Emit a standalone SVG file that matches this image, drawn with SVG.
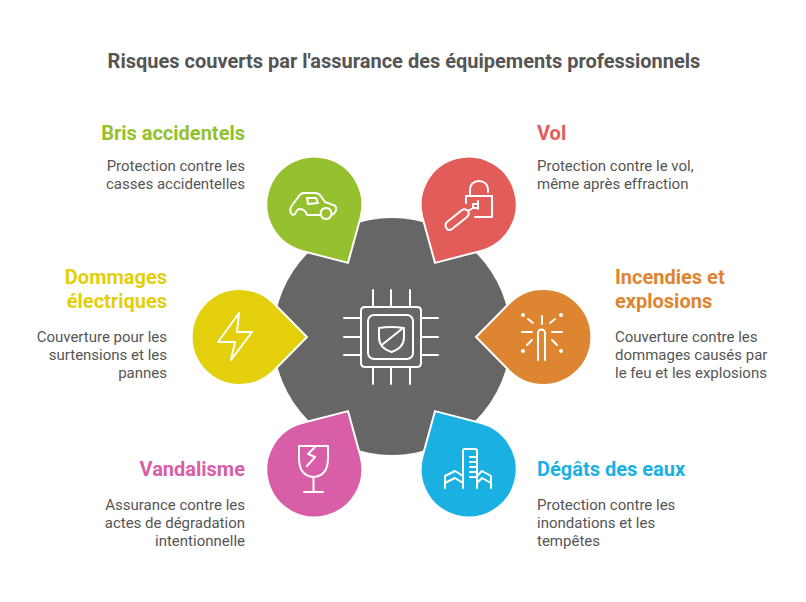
<svg xmlns="http://www.w3.org/2000/svg" width="806" height="602" viewBox="0 0 806 602">
<style>
text{font-family:Roboto,"Liberation Sans",sans-serif}
.t{font-size:20px;font-weight:700;fill:#555}
.h{font-size:20px;font-weight:700}
.d{font-size:15px;fill:#555}
.e{text-anchor:end}
.drop{stroke:#fff;stroke-width:2}
.i{fill:none;stroke:#fff;stroke-width:2;stroke-linecap:round;stroke-linejoin:round}
</style>
<defs><path id="drop" class="drop" d="M68 0L34 34.500A48 48 0 1 1 34 -34.500Z"/></defs>
<rect width="806" height="602" fill="#fff"/>
<text class="t" x="404" y="68" text-anchor="middle">Risques couverts par l'assurance des équipements professionnels</text>
<g id="hub">
<circle cx="392" cy="336.500" r="118.500" fill="#666"/>
<path class="i" d="M365 307H417Q421 307 421 311V363Q421 367 417 367H365Q361 367 361 363V311Q361 307 365 307ZM373 290V307M391 290V307M410 290V307M373 367V384M391 367V384M410 367V384M344 318H361M344 337H361M344 355H361M421 318H438M421 337H438M421 355H438"/>
<rect class="i" x="368" y="315" width="45" height="44" rx="6"/>
<path class="i" d="M379 328Q391 326 404 328V337Q404 348 391.500 352Q379 348 379 337ZM403 328L383 344"/>
</g>
<g id="bris">
<use href="#drop" fill="#95c12f" transform="translate(314 204) rotate(60)"/>
<path class="i" d="M307 215H321M331 215Q335 214 336 210Q337 206 333 205L325 202L320 195Q318 193 315 193H304Q301 193 299 196L293 204Q289 209 291 213Q292 216 295 214Q297 209 300 209Q305 209 307 215M326 208a5.500 5.500 0 1 0 .1 0M307 198H316L318 203L308 204Z"/>
<text class="h e" x="245" y="140" fill="#95c12f">Bris accidentels</text>
<text class="d e" x="245" y="171">Protection contre les</text>
<text class="d e" x="245" y="189">casses accidentelles</text>
</g>
<g id="vol">
<use href="#drop" fill="#e25d5a" transform="translate(469 204) rotate(120)"/>
<path class="i" d="M470 195V189A9 8 0 0 1 488 189V192M466 203V196H492V217H475M447 222L462 210Q465 208 468 211Q470 214 467 217L452 229Q449 231 447 229Q444 225 447 222ZM468 211L473 208V204H478M478 201V209M473 208H478"/>
<text class="h" x="537" y="140" fill="#e25d5a">Vol</text>
<text class="d" x="537" y="171">Protection contre le vol,</text>
<text class="d" x="537" y="189">même après effraction</text>
</g>
<g id="elec">
<use href="#drop" fill="#e3cf0b" transform="translate(239 337)"/>
<path class="i" d="M239 313L218 342H235L231 360L252 332H237Z"/>
<text class="h e" x="167" y="284" fill="#e3cf0b">Dommages</text>
<text class="h e" x="167" y="308" fill="#e3cf0b">électriques</text>
<text class="d e" x="167" y="342">Couverture pour les</text>
<text class="d e" x="167" y="360">surtensions et les</text>
<text class="d e" x="167" y="378">pannes</text>
</g>
<g id="feu">
<use href="#drop" fill="#dd8530" transform="translate(544 337) rotate(180)"/>
<path class="i" d="M538 360V333A3.500 3.500 0 0 1 545 333V360M542 316V324M522 332H532M552 332H562M528 319L533 323M555 319L550 323M532 340L527 345M552 340L557 345"/>
<circle cx="523" cy="315" r="2" fill="#fff"/><circle cx="561" cy="315" r="2" fill="#fff"/><circle cx="523" cy="351" r="2" fill="#fff"/><circle cx="561" cy="351" r="2" fill="#fff"/>
<text class="h" x="615" y="284" fill="#dd8530">Incendies et</text>
<text class="h" x="615" y="308" fill="#dd8530">explosions</text>
<text class="d" x="615" y="342">Couverture contre les</text>
<text class="d" x="615" y="360">dommages causés par</text>
<text class="d" x="615" y="378">le feu et les explosions</text>
</g>
<g id="vandalisme">
<use href="#drop" fill="#d95ea8" transform="translate(314 470) rotate(-60)"/>
<path class="i" d="M299 446H328V458Q328 476 313.500 477Q299 476 299 458ZM313.500 477V492M304 492H323M316 446L308 454L315 457L307 466"/>
<text class="h e" x="245" y="476" fill="#d95ea8">Vandalisme</text>
<text class="d e" x="245" y="510">Assurance contre les</text>
<text class="d e" x="245" y="528">actes de dégradation</text>
<text class="d e" x="245" y="546">intentionnelle</text>
</g>
<g id="eaux">
<use href="#drop" fill="#1bb0e2" transform="translate(469 470) rotate(-120)"/>
<path class="i" d="M463 488V451Q463 449 465 449H475Q477 449 477 451V488M470 457H477M470 462H477M470 467H477M470 472H477M470 477H477M445 488V476L455 471L463 476M445 483L455 478L463 483M491 488V476L482 471L477 476M491 483L482 478L477 483"/>
<text class="h" x="537" y="476" fill="#1bb0e2">Dégâts des eaux</text>
<text class="d" x="537" y="510">Protection contre les</text>
<text class="d" x="537" y="528">inondations et les</text>
<text class="d" x="537" y="546">tempêtes</text>
</g>
</svg>
